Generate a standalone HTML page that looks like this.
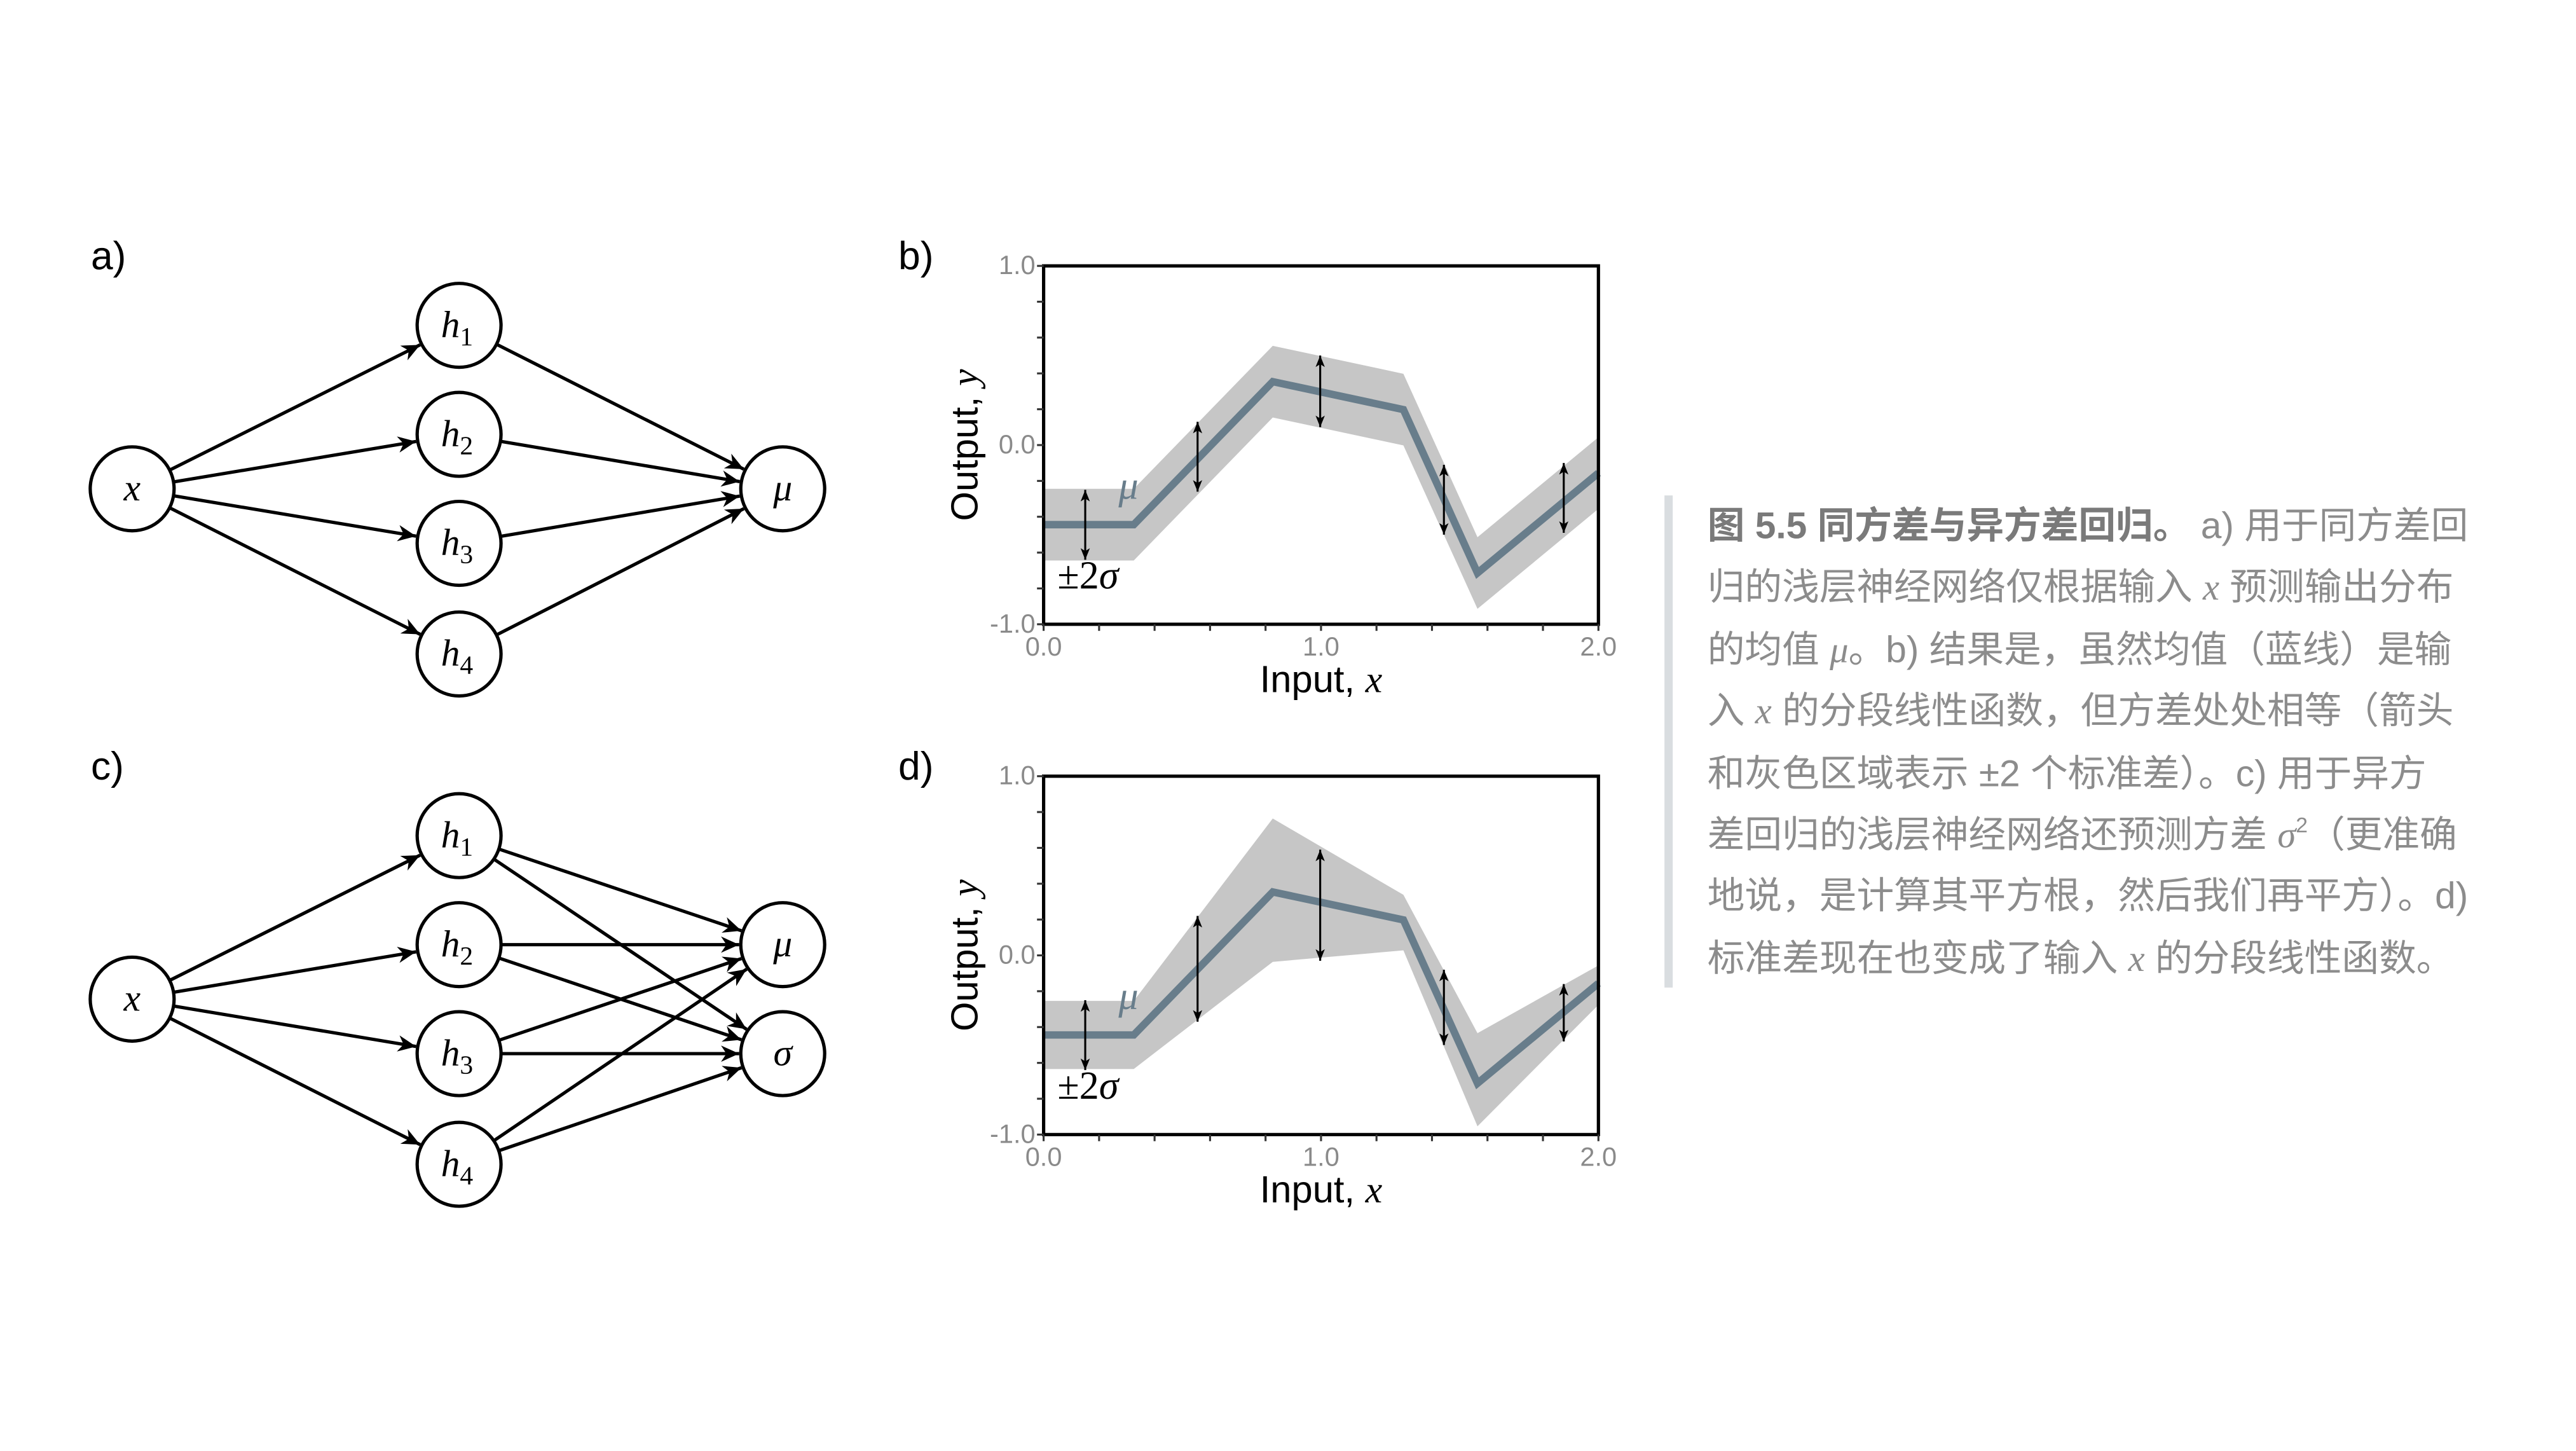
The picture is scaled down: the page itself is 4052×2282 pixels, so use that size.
<!DOCTYPE html>
<html><head><meta charset="utf-8"><style>
html,body{margin:0;padding:0;background:#fff;}
svg{display:block;}
</style></head><body>
<svg id="s" width="4052" height="2282" viewBox="0 0 1560 878.6" xmlns="http://www.w3.org/2000/svg" font-family="Liberation Sans, sans-serif">
<defs>
<marker id="ah" viewBox="0 0 10 10" refX="10" refY="5" markerWidth="11" markerHeight="11" markerUnits="userSpaceOnUse" orient="auto"><path d="M0,0.5 L10,5 L0,9.5 L3,5 z" fill="#000"/></marker>
<marker id="sa" viewBox="0 0 10 10" refX="10" refY="5" markerWidth="7" markerHeight="7" markerUnits="userSpaceOnUse" orient="auto-start-reverse"><path d="M0,1 L10,5 L0,9 L2.5,5 z" fill="#000"/></marker>
</defs>
<g id="net"></g>
<g id="plots"></g>
<text x="55" y="163" font-size="24">a)</text>
<text x="55" y="472" font-size="24">c)</text>
<text x="544" y="163" font-size="24">b)</text>
<text x="544" y="472" font-size="24">d)</text>
<rect x="1008" y="300" width="5" height="298" fill="#d9dde0"/>
<g font-family="Liberation Sans, Noto Sans CJK SC, sans-serif" font-size="22.6" fill="#8c8c8c">
<text x="1034" y="326"><tspan font-weight="bold" fill="#7a7a7a">图 5.5 同方差与异方差回归。</tspan> a) 用于同方差回</text>
<text x="1034" y="363">归的浅层神经网络仅根据输入 <tspan font-family="Liberation Serif, serif" font-style="italic">x</tspan> 预测输出分布</text>
<text x="1034" y="401">的均值 <tspan font-family="Liberation Serif, serif" font-style="italic">μ</tspan>。b) 结果是，虽然均值（蓝线）是输</text>
<text x="1034" y="438">入 <tspan font-family="Liberation Serif, serif" font-style="italic">x</tspan> 的分段线性函数，但方差处处相等（箭头</text>
<text x="1034" y="476">和灰色区域表示 ±2 个标准差）。c) 用于异方</text>
<text x="1034" y="513">差回归的浅层神经网络还预测方差 <tspan font-family="Liberation Serif, serif" font-style="italic">σ</tspan><tspan font-size="13" dy="-9">2</tspan><tspan dy="9">（更准确</tspan></text>
<text x="1034" y="550">地说，是计算其平方根，然后我们再平方）。d)</text>
<text x="1034" y="588">标准差现在也变成了输入 <tspan font-family="Liberation Serif, serif" font-style="italic">x</tspan> 的分段线性函数。</text>
</g>
</svg>
<script>
var NS="http://www.w3.org/2000/svg";
function el(p,t,a,txt){var e=document.createElementNS(NS,t);for(var k in a)e.setAttribute(k,a[k]);if(txt!==undefined)e.textContent=txt;p.appendChild(e);return e;}
var net=document.getElementById('net'),R=25.4;
function node(g,x,y,lab,sub){el(g,'circle',{cx:x,cy:y,r:R,fill:'#fff',stroke:'#000','stroke-width':2});
 var t=el(g,'text',{x:sub?x-11:x,y:y+7,'font-size':23,'font-family':'Liberation Serif, serif','font-style':'italic','text-anchor':sub?'start':'middle'},lab);
 if(sub){el(t,'tspan',{'font-style':'normal','font-size':16,dy:5},sub);}}
function arrow(g,a,b){var dx=b[0]-a[0],dy=b[1]-a[1],L=Math.hypot(dx,dy),ux=dx/L,uy=dy/L;
 el(g,'line',{x1:a[0]+ux*R,y1:a[1]+uy*R,x2:b[0]-ux*(R+1),y2:b[1]-uy*(R+1),stroke:'#000','stroke-width':2,'marker-end':'url(#ah)'});}
function network(oy,outs){var X=[80,296+oy],H=[[278,197+oy],[278,263+oy],[278,329+oy],[278,396+oy]];
 H.forEach(function(h){arrow(net,X,h);});
 outs.forEach(function(o){H.forEach(function(h){arrow(net,h,o.p);});});
 node(net,X[0],X[1],'x');H.forEach(function(h,i){node(net,h[0],h[1],'h',''+(i+1));});
 outs.forEach(function(o){node(net,o.p[0],o.p[1],o.l);});}
network(0,[{p:[474,296],l:'μ'}]);
network(309,[{p:[474,572],l:'μ'},{p:[474,638],l:'σ'}]);

var pl=document.getElementById('plots');
var mx=[0,0.325,0.826,1.297,1.564,2.0],my=[-0.444,-0.444,0.354,0.198,-0.714,-0.156];
function plot(top,sd,arrows){var L=632,Rr=968,B=top+217,
 X=function(v){return L+v/2*(Rr-L);},Y=function(v){return B-(v+1)/2*(B-top);};
 var up=[],dn=[];for(var i=0;i<mx.length;i++){up.push(X(mx[i])+','+Y(my[i]+sd[i][0]));dn.unshift(X(mx[i])+','+Y(my[i]-sd[i][1]));}
 el(pl,'polygon',{points:up.concat(dn).join(' '),fill:'#c6c6c6'});
 var m=[];for(i=0;i<mx.length;i++)m.push(X(mx[i])+','+Y(my[i]));
 el(pl,'polyline',{points:m.join(' '),fill:'none',stroke:'#687d8b','stroke-width':4.5,'stroke-linejoin':'miter'});
 arrows.forEach(function(a){el(pl,'line',{x1:X(a[0]),y1:Y(a[1]),x2:X(a[0]),y2:Y(a[2]),stroke:'#000','stroke-width':1.2,'marker-end':'url(#sa)','marker-start':'url(#sa)'});});
 el(pl,'rect',{x:L,y:top,width:Rr-L,height:B-top,fill:'none',stroke:'#000','stroke-width':2});
 for(var v=0;v<=10;v++){var xx=L+v*(Rr-L)/10;el(pl,'line',{x1:xx,y1:B,x2:xx,y2:B+4,stroke:'#333','stroke-width':1.2});
  var yy=B-v*(B-top)/10;el(pl,'line',{x1:L,y1:yy,x2:L-4,y2:yy,stroke:'#333','stroke-width':1.2});}
 var g={'font-size':16,fill:'#8a8a8a'};
 [['1.0',top],['0.0',(top+B)/2],['-1.0',B]].forEach(function(t){el(pl,'text',Object.assign({x:L-5,y:t[1]+5,'text-anchor':'end'},g),t[0]);});
 [['0.0',L],['1.0',(L+Rr)/2],['2.0',Rr]].forEach(function(t){el(pl,'text',Object.assign({x:t[1],y:B+19,'text-anchor':'middle'},g),t[0]);});
 var xl=el(pl,'text',{x:800,y:B+41,'font-size':23,'text-anchor':'middle'},'Input, ');
 el(xl,'tspan',{'font-family':'Liberation Serif, serif','font-style':'italic'},'x');
 var yl=el(pl,'text',{x:0,y:0,'font-size':23,'text-anchor':'middle',transform:'translate(592,'+((top+B)/2)+') rotate(-90)'},'Output, ');
 el(yl,'tspan',{'font-family':'Liberation Serif, serif','font-style':'italic'},'y');
 el(pl,'text',{x:X(0.27),y:Y(-0.3),'font-size':24,fill:'#687d8b','font-family':'Liberation Serif, serif','font-style':'italic'},'μ');
 var s=el(pl,'text',{x:X(0.05),y:Y(-0.8),'font-size':24,'font-family':'Liberation Serif, serif'},'±2');
 el(s,'tspan',{'font-style':'italic'},'σ');
}
plot(161,[[0.2,0.2],[0.2,0.2],[0.2,0.2],[0.2,0.2],[0.2,0.2],[0.2,0.2]],
 [[0.15,-0.25,-0.64],[0.555,0.13,-0.26],[0.997,0.5,0.1],[1.443,-0.11,-0.5],[1.875,-0.1,-0.49]]);
plot(470,[[0.19,0.19],[0.19,0.19],[0.41,0.39],[0.14,0.17],[0.28,0.24],[0.1,0.12]],
 [[0.15,-0.25,-0.64],[0.555,0.22,-0.37],[0.997,0.59,-0.03],[1.443,-0.08,-0.5],[1.875,-0.16,-0.48]]);
</script>
</body></html>
